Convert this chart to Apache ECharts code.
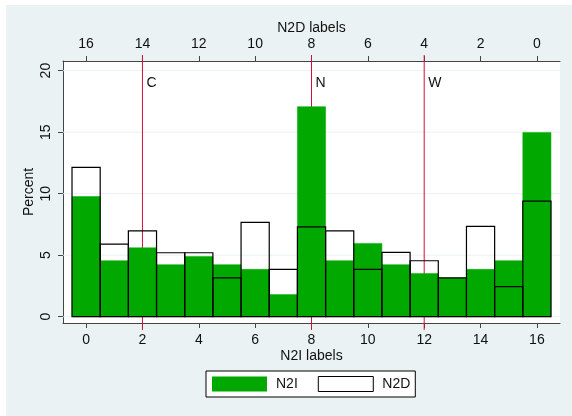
<!DOCTYPE html>
<html><head><meta charset="utf-8">
<script src="https://cdn.jsdelivr.net/npm/echarts@6/dist/echarts.min.js"></script>
<style>html,body{margin:0;padding:0;background:#fff;} #c{width:572px;height:416px;}</style>
</head><body><div id="c"></div>
<script>
// N2I histogram (bottom axis), percent by label
const n2iLabels  = [0, 1, 2, 3, 4, 5, 6, 7, 8, 9, 10, 11, 12, 13, 14, 15, 16];
const n2iPercent = [9.76, 4.55, 5.6, 4.23, 4.9, 4.23, 3.85, 1.8, 17.07, 4.55, 5.96, 4.23, 3.52, 3.15, 3.85, 4.55, 14.98];
// N2D histogram (top, reversed axis), percent by label
const n2dLabels  = [0, 1, 2, 3, 4, 5, 6, 7, 8, 9, 10, 11, 12, 13, 14, 15, 16];
const n2dPercent = [9.4, 2.44, 7.34, 3.15, 4.55, 5.23, 3.85, 6.97, 7.3, 3.85, 7.67, 3.15, 5.2, 5.2, 6.97, 5.9, 12.14];
// Tick labels
const xTickValues = [0, 2, 4, 6, 8, 10, 12, 14, 16];
const yTickValues = [0, 5, 10, 15, 20];
// Reference lines
const refLineX = [2, 8, 12];
const refLineNames = ['C', 'N', 'W'];
const refLabelY = 19;

const FONT = "'Liberation Sans', Arial, sans-serif";
const TXT = '#111';
const AXC = '#444';
const PANEL = '#EAF2F3';
const GREEN = '#00a800';
const RED = '#d0103a';
const X_MIN = -0.82, X_MAX = 16.82, Y_MIN = -0.51, Y_MAX = 20.78;

function barRenderer(outline) {
  return function (params, api) {
    const x = api.value(0), y = api.value(1);
    const a = api.coord([x - 0.5, 0]);
    const b = api.coord([x + 0.5, y]);
    const style = outline
      ? { fill: 'none', stroke: '#000', lineWidth: 1.2 }
      : { fill: GREEN, stroke: GREEN, lineWidth: 0.5 };
    return {
      type: 'rect',
      shape: { x: Math.min(a[0], b[0]), y: b[1], width: Math.abs(b[0] - a[0]), height: a[1] - b[1] },
      style: style
    };
  };
}

const chart = echarts.init(document.getElementById('c'), null, { renderer: 'canvas' });
chart.setOption({
  animation: false,
  backgroundColor: 'transparent',
  textStyle: { fontFamily: FONT },
  graphic: [{
    type: 'rect', left: 6, top: 5, z: -10, silent: true,
    shape: { width: 566, height: 411 }, style: { fill: PANEL }
  }],
  grid: { left: 63, right: 12, top: 61, bottom: 93, show: true, backgroundColor: '#fff', borderWidth: 0 },
  legend: {
    left: 206, top: 371, orient: 'horizontal',
    backgroundColor: '#fff', borderColor: '#000', borderWidth: 1, borderRadius: 0,
    padding: [5, 5, 5, 6], itemGap: 20, itemWidth: 55, itemHeight: 15, icon: 'rect',
    textStyle: { fontSize: 14, color: TXT, fontFamily: FONT, padding: [0, 0, 0, 4] },
    data: [
      { name: 'N2I', itemStyle: { color: GREEN, borderWidth: 0 } },
      { name: 'N2D', itemStyle: { color: '#fff', borderColor: '#000', borderWidth: 1 } }
    ]
  },
  xAxis: [{
    type: 'value', position: 'bottom', min: X_MIN, max: X_MAX,
    name: 'N2I labels', nameLocation: 'middle', nameGap: 26, nameMoveOverlap: false,
    nameTextStyle: { fontSize: 14, color: TXT },
    axisLine: { show: true, onZero: false, lineStyle: { color: AXC, width: 1 } },
    axisTick: { show: true, length: 5, customValues: xTickValues, lineStyle: { color: AXC } },
    axisLabel: { customValues: xTickValues, fontSize: 14, color: TXT, margin: 10 },
    splitLine: { show: false }
  }, {
    type: 'value', position: 'top', inverse: true, min: X_MIN, max: X_MAX,
    name: 'N2D labels', nameLocation: 'middle', nameGap: 26, nameMoveOverlap: false,
    nameTextStyle: { fontSize: 14, color: TXT },
    axisLine: { show: true, onZero: false, lineStyle: { color: AXC, width: 1 } },
    axisTick: { show: true, length: 5, customValues: xTickValues, lineStyle: { color: AXC } },
    axisLabel: { customValues: xTickValues, fontSize: 14, color: TXT, margin: 10 },
    splitLine: { show: false }
  }],
  yAxis: [{
    type: 'value', min: Y_MIN, max: Y_MAX,
    name: 'Percent', nameLocation: 'middle', nameGap: 27, nameRotate: 90, nameMoveOverlap: false,
    nameTextStyle: { fontSize: 14, color: TXT },
    axisLine: { show: true, onZero: false, lineStyle: { color: AXC, width: 1 } },
    axisTick: { show: true, length: 5, customValues: yTickValues, lineStyle: { color: AXC } },
    axisLabel: { customValues: yTickValues, fontSize: 14, color: TXT, rotate: 90, margin: 10 },
    splitLine: { show: false }
  }],
  series: [{
    type: 'custom', name: 'grid', silent: true, z: 1,
    xAxisIndex: 0, yAxisIndex: 0,
    data: yTickValues.map(v => [0, v]),
    renderItem: function (params, api) {
      const cs = params.coordSys;
      const y = api.coord([0, api.value(1)])[1];
      return { type: 'line', shape: { x1: cs.x, y1: y, x2: cs.x + cs.width, y2: y }, style: { stroke: PANEL, lineWidth: 1 } };
    }
  }, {
    type: 'custom', name: 'refLines', silent: true, z: 1, clip: false,
    xAxisIndex: 0, yAxisIndex: 0,
    data: refLineX.map(x => [x, refLabelY]),
    renderItem: function (params, api) {
      const cs = params.coordSys;
      const p = api.coord([api.value(0), api.value(1)]);
      return {
        type: 'group',
        children: [{
          type: 'line',
          shape: { x1: p[0], y1: cs.y - 6, x2: p[0], y2: cs.y + cs.height + 7 },
          style: { stroke: RED, lineWidth: 1 }
        }, {
          type: 'text', x: p[0] + 4, y: p[1],
          style: { text: refLineNames[params.dataIndex], fill: TXT, font: '14px ' + FONT, verticalAlign: 'middle', align: 'left' }
        }]
      };
    }
  }, {
    type: 'custom', name: 'N2I', z: 5,
    xAxisIndex: 0, yAxisIndex: 0,
    itemStyle: { color: GREEN },
    data: n2iLabels.map((l, i) => [l, n2iPercent[i]]),
    renderItem: barRenderer(false)
  }, {
    type: 'custom', name: 'N2D', z: 6,
    xAxisIndex: 1, yAxisIndex: 0,
    itemStyle: { color: '#fff', borderColor: '#000' },
    data: n2dLabels.map((l, i) => [l, n2dPercent[i]]),
    renderItem: barRenderer(true)
  }]
});
</script>
</body></html>
